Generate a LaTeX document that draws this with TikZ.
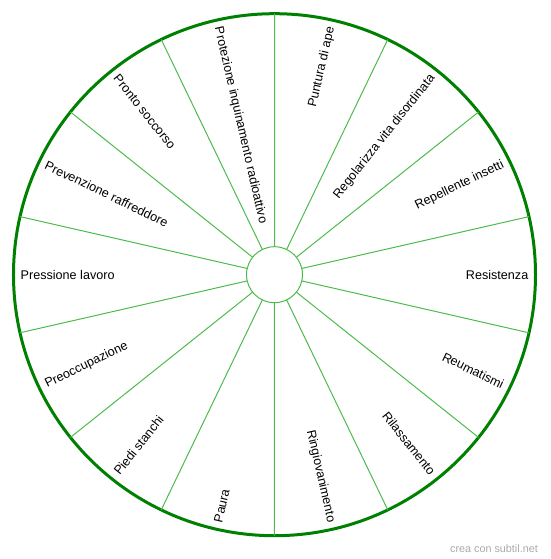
\documentclass[tikz,border=0pt]{standalone}
\usepackage{fontspec}
\setmainfont{Liberation Sans}
\usepackage{xcolor}
\usepackage{tikz}
\usetikzlibrary{positioning}

\definecolor{rimgreen}{RGB}{0,128,0}
\definecolor{spokegreen}{RGB}{76,187,76}
\definecolor{footgray}{RGB}{170,170,170}

\begin{document}
\begin{tikzpicture}[
    x=1pt, y=1pt,
    rim/.style={
        draw=rimgreen,
        line width=3pt
    },
    spoke/.style={
        draw=spokegreen,
        line width=1pt
    },
    lblR/.style={
        anchor=east,
        inner sep=0pt,
        font=\fontsize{12.6}{15}\selectfont
    },
    lblL/.style={
        anchor=west,
        inner sep=0pt,
        font=\fontsize{12.6}{15}\selectfont
    },
    foot/.style={
        anchor=east,
        inner sep=0pt,
        text=footgray,
        font=\fontsize{10.8}{13}\selectfont
    }
]
\useasboundingbox (-274.5,-284.3) rectangle (275.5,274.7);

% wheel
\coordinate (c) at (0,0);
\draw[rim] (c) circle (261);
\node[spoke, circle, minimum size=56pt, inner sep=0pt, fill=white] (hub) at (c) {};
\foreach \a in {12.857,38.571,...,360}
    \draw[spoke] (\a:28) -- (\a:261);

% right half
\node[lblR, rotate=0] (resistenza) at (0:254) {Resistenza};
\node[lblR, rotate=25.714] (repellente) at (25.714:254) {Repellente insetti};
\node[lblR, rotate=51.429] (regolarizza) at (51.429:254) {Regolarizza vita disordinata};
\node[lblR, rotate=77.143] (puntura) at (77.143:254) {Puntura di ape};
\node[lblR, rotate=-77.143] (ringiovanimento) at (282.857:254) {Ringiovanimento};
\node[lblR, rotate=-51.429] (rilassamento) at (308.571:254) {Rilassamento};
\node[lblR, rotate=-25.714] (reumatismi) at (334.286:254) {Reumatismi};

% left half
\node[lblL, rotate=-77.143] (protezione) at (102.857:254) {Protezione inquinamento radioattivo};
\node[lblL, rotate=-51.429] (pronto) at (128.571:254) {Pronto soccorso};
\node[lblL, rotate=-25.714] (prevenzione) at (154.286:254) {Prevenzione raffreddore};
\node[lblL, rotate=0] (pressione) at (180:254) {Pressione lavoro};
\node[lblL, rotate=25.714] (preoccupazione) at (205.714:254) {Preoccupazione};
\node[lblL, rotate=51.429] (piedi) at (231.429:254) {Piedi stanchi};
\node[lblL, rotate=77.143] (paura) at (257.143:254) {Paura};

\node[foot] (credit) at (263.5,-274.3) {crea con subtil.net};

\end{tikzpicture}
\end{document}
